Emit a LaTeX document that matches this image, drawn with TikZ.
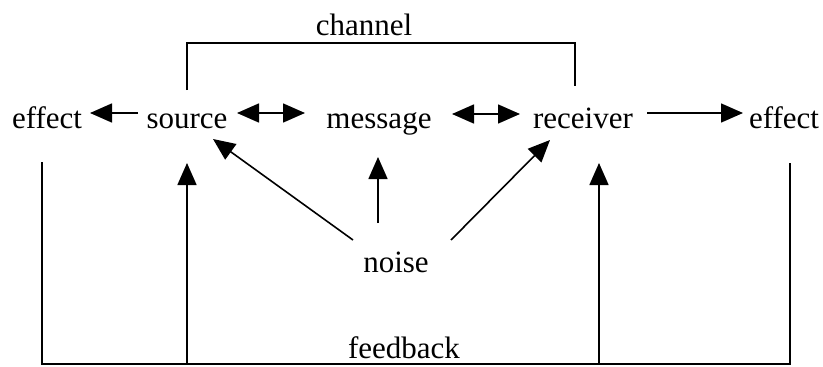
\documentclass[tikz,border=0pt]{standalone}
\usepackage{fontspec}
\setmainfont{Liberation Serif}
\usetikzlibrary{arrows.meta}
\begin{document}
\begin{tikzpicture}[x=1pt,y=-1pt,
  lbl/.style={anchor=base,inner sep=0pt,font=\fontsize{31}{37}\selectfont},
  ln/.style={line width=1.6pt},
  arr/.style={ln,-{Triangle[length=22pt,width=19pt]}},
  darr/.style={ln,{Triangle[length=22pt,width=19pt]}-{Triangle[length=22pt,width=19pt]}}]
\useasboundingbox (0,0) rectangle (823,367);
% nodes
\node[lbl] (effectL) at (47,128) {effect};
\node[lbl] (source) at (187,128) {source};
\node[lbl] (message) at (379,128) {message};
\node[lbl] (receiver) at (583,128) {receiver};
\node[lbl] (effectR) at (784,128) {effect};
\node[lbl] (channel) at (364,35) {channel};
\node[lbl] (noise) at (396,272) {noise};
\node[lbl] (feedback) at (404,358) {feedback};
% channel
\draw[ln] ([shift={(0pt,38pt)}]source.base) |- ([shift={(-8pt,85pt)}]receiver.base) -- ([shift={(-8pt,42pt)}]receiver.base);
% row arrows
\draw[arr] ([shift={(-49pt,15pt)}]source.base) -- ([shift={(43pt,15pt)}]effectL.base);
\draw[darr] ([shift={(50pt,15pt)}]source.base) -- ([shift={(-74pt,15pt)}]message.base);
\draw[darr] ([shift={(73pt,14pt)}]message.base) -- ([shift={(-63pt,14pt)}]receiver.base);
\draw[arr] ([shift={(64pt,15pt)}]receiver.base) -- ([shift={(-41pt,15pt)}]effectR.base);
% noise arrows
\draw[arr] ([shift={(-43pt,32pt)}]noise.base) -- ([shift={(26pt,-11pt)}]source.base);
\draw[arr] ([shift={(-18pt,49pt)}]noise.base) -- ([shift={(-1pt,-29pt)}]message.base);
\draw[arr] ([shift={(55pt,32pt)}]noise.base) -- ([shift={(-33pt,-12pt)}]receiver.base);
% feedback loop
\draw[ln] ([shift={(-5pt,-34pt)}]effectL.base) |- ([yshift=-6pt]feedback.base);
\draw[ln] ([yshift=-6pt]feedback.base) -| ([shift={(6pt,-35pt)}]effectR.base);
\draw[arr] ([yshift=-6pt]feedback.base -| source.base) -- ([yshift=-35pt]source.base);
\draw[arr] ([xshift=16pt,yshift=-6pt]feedback.base -| receiver.base) -- ([shift={(16pt,-35pt)}]receiver.base);
\end{tikzpicture}
\end{document}
